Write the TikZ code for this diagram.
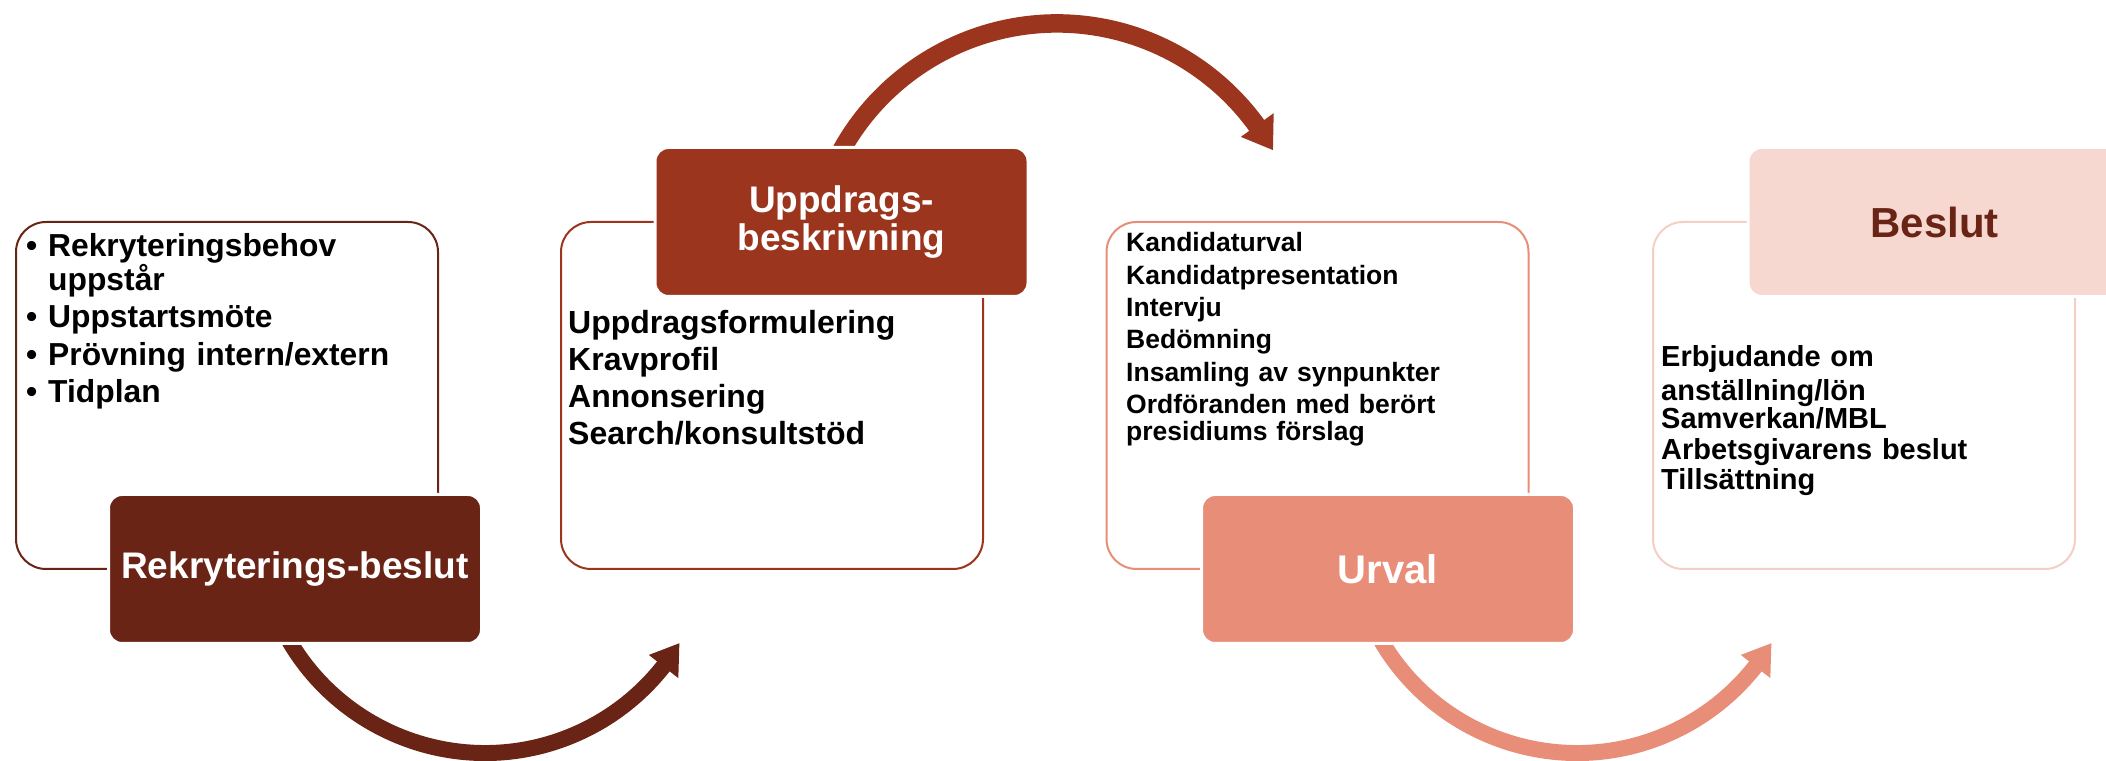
\documentclass[tikz,border=0pt]{standalone}
\usepackage{fontspec}
\setmainfont{Liberation Sans}
\usetikzlibrary{calc}

\definecolor{brownD}{RGB}{106,36,21}
\definecolor{rust}{RGB}{156,53,29}
\definecolor{salmon}{RGB}{232,142,120}
\definecolor{blush}{RGB}{246,216,208}
\definecolor{blushline}{RGB}{243,207,197}

\begin{document}
\begin{tikzpicture}[x=1pt,y=1pt,
  panel/.style={draw=#1, line width=2pt, fill=white, rounded corners=30pt,
    minimum width=422pt, minimum height=347pt, inner sep=0pt},
  tag/.style={fill=#1, draw=white, line width=3pt, rounded corners=13.5pt,
    minimum width=373pt, minimum height=149pt, inner sep=0pt, align=center},
  body/.style={anchor=base west, inner sep=0pt, text width=430pt, align=left},
]
\useasboundingbox (0,0) rectangle (2106,760);
\clip (0,0) rectangle (2106,760);

% outlined panels
\node[panel=brownD]    (b1) at (227,364.5)  {};
\node[panel=rust]      (b2) at (772,364.5)  {};
\node[panel=salmon]    (b3) at (1317.5,364.5) {};
\node[panel=blushline] (b4) at (1864,364.5) {};

% centres of the circular arrows
\coordinate (c1) at (485,234);
\coordinate (c2) at (1057,490);
\coordinate (c3) at (1577,234);

% bottom arrow from stage 1 to stage 2
\draw[brownD, line width=16pt] ($(c1)+(205:227)$) arc[start angle=205, end angle=323, radius=227];
\fill[brownD] ($(c1)+(-31.1:227)$) -- ($(c1)+(-38.2:246)$) -- ($(c1)+(-38.2:208.5)$) -- cycle;

% top arrow from stage 2 to stage 3
\draw[rust, line width=18.5pt] ($(c2)+(160:246.5)$) arc[start angle=160, end angle=35, radius=246.5];
\fill[rust] ($(c2)+(29.05:247)$) -- ($(c2)+(35.9:267.5)$) -- ($(c2)+(35.9:227)$) -- cycle;

% bottom arrow from stage 3 to stage 4
\draw[salmon, line width=16pt] ($(c3)+(205:227)$) arc[start angle=205, end angle=323, radius=227];
\fill[salmon] ($(c3)+(-31.1:227)$) -- ($(c3)+(-38.2:246)$) -- ($(c3)+(-38.2:208.5)$) -- cycle;

% stage titles
\node[tag=brownD, text=white, font=\bfseries\fontsize{37}{38}\selectfont] (l1) at (295,191) {Rekryterings-beslut};
\node[tag=rust, text=white, font=\bfseries\fontsize{37}{38}\selectfont] (l2) at (841.5,538) {Uppdrags-\\beskrivning};
\node[tag=salmon, text=white, font=\bfseries\fontsize{40}{42}\selectfont] (l3) at (1388,191) {Urval};
\node[tag=blush, text=brownD, font=\bfseries\fontsize{42}{44}\selectfont] (l4) at (1934.5,538) {Beslut};

% stage contents
\node[body, font=\bfseries\fontsize{31.8}{33.5}\selectfont] (t1) at (26,503)
  {\makebox[22pt][l]{\textbullet}Rekryteringsbehov\\
   \hspace*{22pt}uppstår\\[4pt]
   \makebox[22pt][l]{\textbullet}Uppstartsmöte\\[4pt]
   \makebox[22pt][l]{\textbullet}Prövning intern/extern\\[4pt]
   \makebox[22pt][l]{\textbullet}Tidplan};
\node[body, font=\bfseries\fontsize{32}{36.7}\selectfont] (t2) at (568,426)
  {Uppdragsformulering\\
   Kravprofil\\
   Annonsering\\
   Search/konsultstöd};
\node[body, font=\bfseries\fontsize{26.5}{27}\selectfont] (t3) at (1126,508)
  {Kandidaturval\\[5.3pt]
   Kandidatpresentation\\[5.3pt]
   Intervju\\[5.3pt]
   Bedömning\\[5.3pt]
   Insamling av synpunkter\\[5.3pt]
   Ordföranden med berört\\
   presidiums förslag};
\node[body, font=\bfseries\fontsize{29}{31}\selectfont] (t4) at (1661,393)
  {Erbjudande om\\[2.5pt]
   anställning/lön\\[-2.5pt]
   Samverkan/MBL\\
   Arbetsgivarens beslut\\[-1pt]
   Tillsättning};
\end{tikzpicture}
\end{document}
